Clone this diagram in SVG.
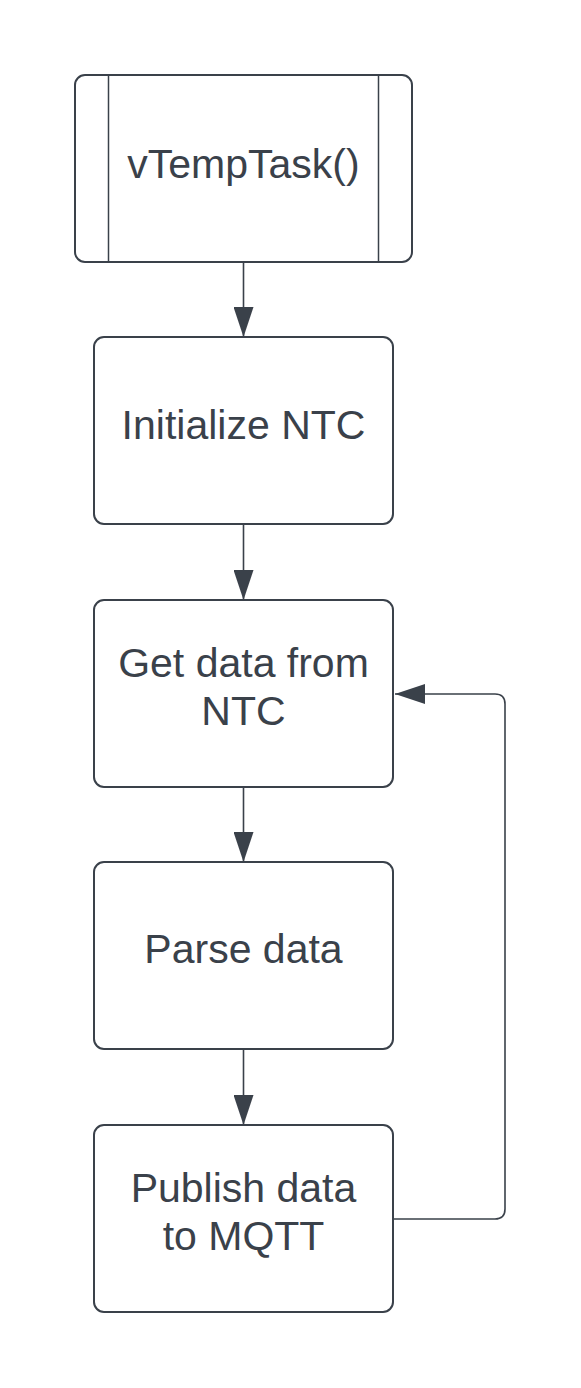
<svg xmlns="http://www.w3.org/2000/svg" width="581" height="1388" viewBox="0 0 581 1388">
<style>
.box{fill:#ffffff;stroke:#3a414a;stroke-width:2}
.div{stroke:#3a414a;stroke-width:1.5}
.lbl{font-family:"Liberation Sans",Arial,sans-serif;font-size:41px;fill:#3a414a;text-anchor:middle}
.con{fill:none;stroke:#3a414a;stroke-width:1.6}
</style>
<defs>
<marker id="ah" markerWidth="30" markerHeight="20" refX="30" refY="10" orient="auto" markerUnits="userSpaceOnUse">
<path d="M0,0 L30,10 L0,20 Z" fill="#3a414a"/>
</marker>
</defs>
<rect width="581" height="1388" fill="#ffffff"/>
<g id="connectors">
<line class="con" x1="243.5" y1="262" x2="243.5" y2="337" marker-end="url(#ah)"/>
<line class="con" x1="243.5" y1="524" x2="243.5" y2="600" marker-end="url(#ah)"/>
<line class="con" x1="243.5" y1="787" x2="243.5" y2="862" marker-end="url(#ah)"/>
<line class="con" x1="243.5" y1="1049" x2="243.5" y2="1125" marker-end="url(#ah)"/>
<path class="con" d="M393,1219 H495 Q505,1219 505,1209 V704 Q505,694 495,694 H395" marker-end="url(#ah)"/>
</g>
<g id="vTempTask">
<rect class="box" x="75" y="75" width="337" height="187" rx="10"/>
<line class="div" x1="108.5" y1="75" x2="108.5" y2="262"/>
<line class="div" x1="378.5" y1="75" x2="378.5" y2="262"/>
<text class="lbl" x="243.5" y="178">vTempTask()</text>
</g>
<g id="initNTC">
<rect class="box" x="94" y="337" width="299" height="187" rx="10"/>
<text class="lbl" x="243.5" y="439">Initialize NTC</text>
</g>
<g id="getData">
<rect class="box" x="94" y="600" width="299" height="187" rx="10"/>
<text class="lbl" x="243.5" y="677">Get data from</text>
<text class="lbl" x="243.5" y="725">NTC</text>
</g>
<g id="parseData">
<rect class="box" x="94" y="862" width="299" height="187" rx="10"/>
<text class="lbl" x="243.5" y="963">Parse data</text>
</g>
<g id="publish">
<rect class="box" x="94" y="1125" width="299" height="187" rx="10"/>
<text class="lbl" x="243.5" y="1202">Publish data</text>
<text class="lbl" x="243.5" y="1250">to MQTT</text>
</g>
</svg>
